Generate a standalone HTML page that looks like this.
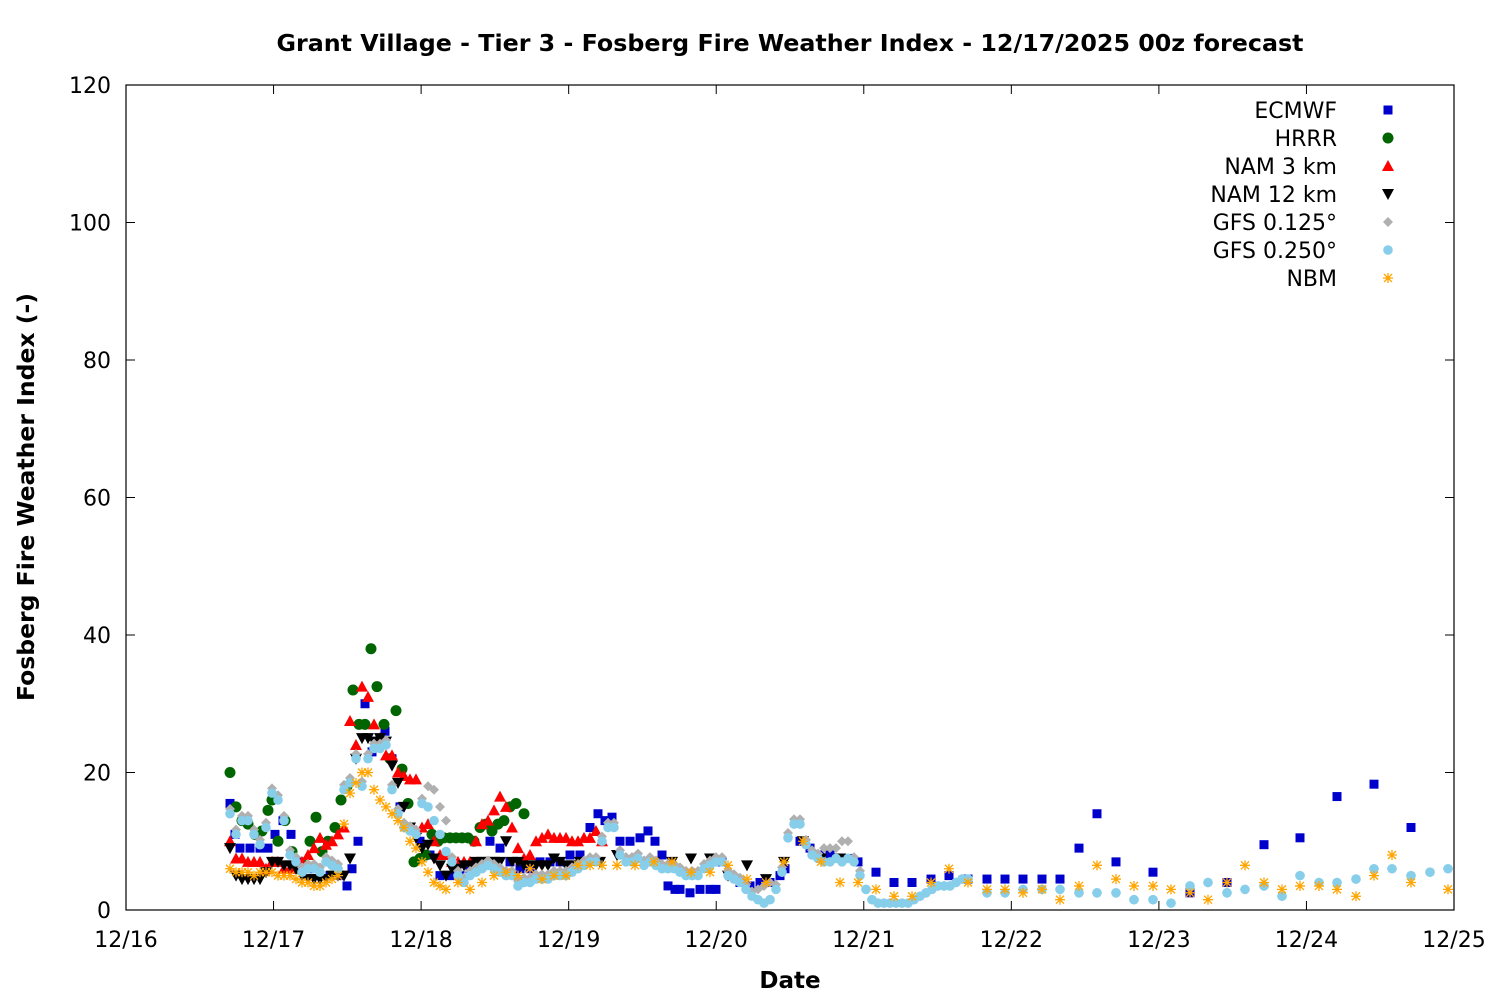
<!DOCTYPE html>
<html><head><meta charset="utf-8"><style>
html,body{margin:0;padding:0;background:#fff}
svg{display:block}
text{font-family:"DejaVu Sans","Liberation Sans",sans-serif;fill:#000}
</style></head><body>
<svg id="s" width="1500" height="1000" viewBox="0 0 1500 1000" xmlns="http://www.w3.org/2000/svg">
<rect width="1500" height="1000" fill="#fff"/>
<text x="790" y="51" font-size="23" font-weight="bold" text-anchor="middle" textLength="1027" lengthAdjust="spacingAndGlyphs">Grant Village - Tier 3 - Fosberg Fire Weather Index - 12/17/2025 00z forecast</text>
<text x="790" y="988" font-size="23" font-weight="bold" text-anchor="middle">Date</text>
<text transform="translate(34,497) rotate(-90)" font-size="23" font-weight="bold" text-anchor="middle" textLength="408" lengthAdjust="spacingAndGlyphs">Fosberg Fire Weather Index (-)</text>
<g id="ax"></g>
<g id="pts"></g>
<rect x="126" y="85" width="1328" height="825" fill="none" stroke="#000" stroke-width="1.2"/>
</svg>
<script>
const NS="http://www.w3.org/2000/svg",ax=document.getElementById('ax'),P=document.getElementById('pts');
function el(t,a,p){const e=document.createElementNS(NS,t);for(const k in a)e.setAttribute(k,a[k]);(p||P).appendChild(e);return e;}
const Y=v=>910-v*6.875;
for(let v=0;v<=120;v+=20){const y=Y(v);el('line',{x1:126,x2:135,y1:y,y2:y,stroke:'#000'},ax);el('line',{x1:1445,x2:1454,y1:y,y2:y,stroke:'#000'},ax);
const t=el('text',{x:111,y:y+8,'font-size':22,'text-anchor':'end'},ax);t.textContent=v;}
for(let d=0;d<=9;d++){const x=126+d*1328/9;el('line',{x1:x,x2:x,y1:910,y2:901,stroke:'#000'},ax);el('line',{x1:x,x2:x,y1:85,y2:94,stroke:'#000'},ax);
const t=el('text',{x:x,y:947,'font-size':22,'text-anchor':'middle'},ax);t.textContent='12/'+(16+d);}
function sym(type,x,y,c){
 if(type=='sq')el('rect',{x:x-4.5,y:y-4.5,width:9,height:9,fill:c});
 else if(type=='ci')el('circle',{cx:x,cy:y,r:5.5,fill:c});
 else if(type=='up')el('polygon',{points:`${x},${y-6} ${x-6},${y+5} ${x+6},${y+5}`,fill:c});
 else if(type=='dn')el('polygon',{points:`${x},${y+6} ${x-6},${y-5} ${x+6},${y-5}`,fill:c});
 else if(type=='di')el('polygon',{points:`${x},${y-5} ${x+5},${y} ${x},${y+5} ${x-5},${y}`,fill:c});
 else if(type=='pe')el('circle',{cx:x,cy:y,r:4.8,fill:c});
 else if(type=='as'){el('path',{d:`M${x-5},${y}H${x+5}M${x},${y-5}V${y+5}M${x-4},${y-4}L${x+4},${y+4}M${x-4},${y+4}L${x+4},${y-4}`,stroke:c,'stroke-width':1.3,fill:'none'});}
}
function S(str){return str.trim().split(/\s+/).map(p=>p.split(':').map(Number));}
const EC=S(`230:15.5 235:11 240:9 250:9 260:9 268:9 275:11 283:13 291:11 300:7 310:6 320:5 330:5 340:5 347:3.5 352:6 358:10 365:30 372:23 380:25 385:26 392:22 400:15 410:12 420:10 430:8 440:5 450:5 460:5 470:6 480:7 490:10 500:9 510:7 520:6 530:6 540:7 550:7 560:7 570:8 580:8 590:12 598:14 605:13 612:13.5 620:10 630:10 640:10.5 648:11.5 655:10 662:8 668:3.5 675:3 680:3 690:2.5 700:3 710:3 716:3 722:7 730:5 740:4 750:3.5 760:4 770:4 780:5 785:6 800:10 810:9 820:8 830:8 840:7.5 850:7.5 858:7 876:5.5 894:4 912:4 931:4.5 949:5 968:4.5 987:4.5 1005:4.5 1023:4.5 1042:4.5 1060:4.5 1079:9 1097:14 1116:7 1153:5.5 1190:2.5 1227:4 1264:9.5 1300:10.5 1337:16.5 1374:18.3 1411:12`);
const HR=S(`230:20 236:15 242:13 248:12.5 255:11 262:11.5 268:14.5 272:16 278:10 285:13 292:8.5 298:6 304:6.5 310:10 316:13.5 322:8.5 328:10 335:12 341:16 347:18 353:32 359:27 365:27 371:38 377:32.5 384:27 390:22 396:29 402:20.5 408:15.5 414:7 420:7.5 426:8 432:11 438:10 444:10.5 450:10.5 456:10.5 462:10.5 468:10.5 474:10 480:12 486:12.5 492:11.5 498:12.5 504:13 510:15 516:15.5 524:14`);
const N3=S(`230:10 236:7.5 242:7.5 248:7 254:7 260:7 266:6 272:7 278:7 284:6 290:6 296:6.5 302:7 308:8 314:9 320:10.5 326:9.5 332:10 338:11 344:12 350:27.5 356:24 362:32.5 368:31 374:27 380:25 386:22.5 392:22.5 398:20 404:19.5 410:19 416:19 422:12 428:12.5 434:10 440:8 446:8 452:7 458:7 464:7 470:7 476:10 482:12.5 488:13 494:14.5 500:16.5 506:15 512:12 518:9 524:7.5 530:8 536:10 542:10.5 548:11 554:10.5 560:10.5 566:10.5 572:10 578:10 584:10.5 590:10.5 596:11.5 602:10`);
const N12=S(`230:9 236:5 242:4.5 248:4.5 254:4.5 260:4.5 266:5.5 272:7 278:7 284:6.5 290:6.5 296:6 302:5 308:4.5 314:4.5 320:4.5 326:4.5 332:5 338:5 344:5 350:7.5 356:22 362:25 368:25 374:24.5 380:25 386:24.5 392:21 398:18.5 404:15 410:12 416:10.5 422:9 428:9.5 434:7.5 440:6.5 446:5 452:6 458:6 464:6.5 470:6.5 476:7 482:7 488:7 494:7 500:7 506:10 512:7 518:7 524:6.5 530:6.5 536:6.5 542:6.5 548:6.5 554:7.5 560:7 566:6.5 572:6.5 580:7 600:7 617:8 635:7 654:7 672:7 691:7.5 710:7.5 728:5 747:6.5 766:4.5 784:7 803:10 821:7.5 840:7.5`);
const G25=S(`230:14 236:11 242:13 248:13 254:11 260:9.5 266:12 272:17 278:16 284:13 290:8 296:7 302:5.5 308:6 314:6 320:5.5 326:7 332:6.5 338:6 344:17.5 350:18.5 356:22 362:18 368:22 374:23.5 380:23.5 386:24 392:17.5 398:14 404:12 410:11.5 416:11 422:15.5 428:15 434:13 440:11 446:8.5 452:7 458:5 464:4 470:5 476:5.5 482:6 488:6.5 494:6 500:5.5 506:5 512:5 518:3.5 524:4 530:4 536:4.5 542:4.5 548:4.5 554:5 560:5 566:5 572:5.5 578:6 584:6.5 590:7 596:7 602:10 608:12 614:12 620:8 626:7 632:7 638:7.5 644:6.5 650:7 656:6.5 662:6 668:6 674:6 680:5.5 686:5 692:5 698:5 704:6 710:6.5 716:7 722:7 728:5 734:4.5 740:4 746:3 752:2 758:1.5 764:1 770:1.5 776:3 782:5.5 788:10.5 794:12.5 800:12.5 806:9.5 812:8 818:7.5 824:7 830:7 836:7.5 842:7 848:7.5 854:7 860:5 866:3 872:1.5 878:1 884:1 890:1 896:1 902:1 908:1 914:1.5 920:2 926:2.5 932:3 938:3.5 944:3.5 950:3.5 956:4 962:4.5 968:4.5 987:2.5 1005:2.5 1023:3 1042:3 1060:3 1079:2.5 1097:2.5 1116:2.5 1134:1.5 1153:1.5 1171:1 1190:3.5 1208:4 1227:2.5 1245:3 1264:3.5 1282:2 1300:5 1319:4 1337:4 1356:4.5 1374:6 1392:6 1411:5 1430:5.5 1448:6`);
const GO={352:32.5,428:18,434:17.5,440:15,446:13,824:9,830:9,836:9,842:10,848:10,758:3,764:3.5,770:4};
const G125=G25.map(([x,v])=>[x,GO[x]!==undefined?GO[x]:(x>860?v:v+0.7)]);
const NB=S(`230:6 236:5.5 242:5.5 248:5.5 254:5 260:5.5 266:5.5 272:5.5 278:5 284:5 290:5 296:4.5 302:4 308:4 314:3.5 320:3.5 326:4 332:4.5 338:5 344:12.5 350:17 356:18.5 362:20 368:20 374:17.5 380:16 386:15 392:14 398:13 404:12 410:10 416:9 422:7 428:5.5 434:4 440:3.5 446:3 458:4 470:3 482:4 494:5 506:5.5 518:5 530:6 542:4.5 554:5 566:5 578:6.5 590:6.5 602:6.5 617:6.5 635:6.5 654:7 672:7 691:5.5 710:5.5 728:6.5 747:4.5 766:4 784:7 803:10 821:7 840:4 858:4 876:3 894:2 912:2 931:4 949:6 968:4 987:3 1005:3 1023:2.5 1042:3 1060:1.5 1079:3.5 1097:6.5 1116:4.5 1134:3.5 1153:3.5 1171:3 1190:2.5 1208:1.5 1227:4 1245:6.5 1264:4 1282:3 1300:3.5 1319:3.5 1337:3 1356:2 1374:5 1392:8 1411:4 1448:3`);
const series=[[EC,'sq','#0000cc','ECMWF'],[HR,'ci','#006400','HRRR'],[N3,'up','#ff0000','NAM 3 km'],[N12,'dn','#000000','NAM 12 km'],[G125,'di','#b0b0b0','GFS 0.125°'],[G25,'pe','#87ceeb','GFS 0.250°'],[NB,'as','#ffa500','NBM']];
series.forEach(([d,t,c,n],i)=>{d.forEach(([x,v])=>sym(t,x,Y(v),c));
 const ly=110+i*28;const tx=el('text',{x:1337,y:ly+8,'font-size':22,'text-anchor':'end'});tx.textContent=n;sym(t,1388,ly,c);});
</script>
</body></html>
